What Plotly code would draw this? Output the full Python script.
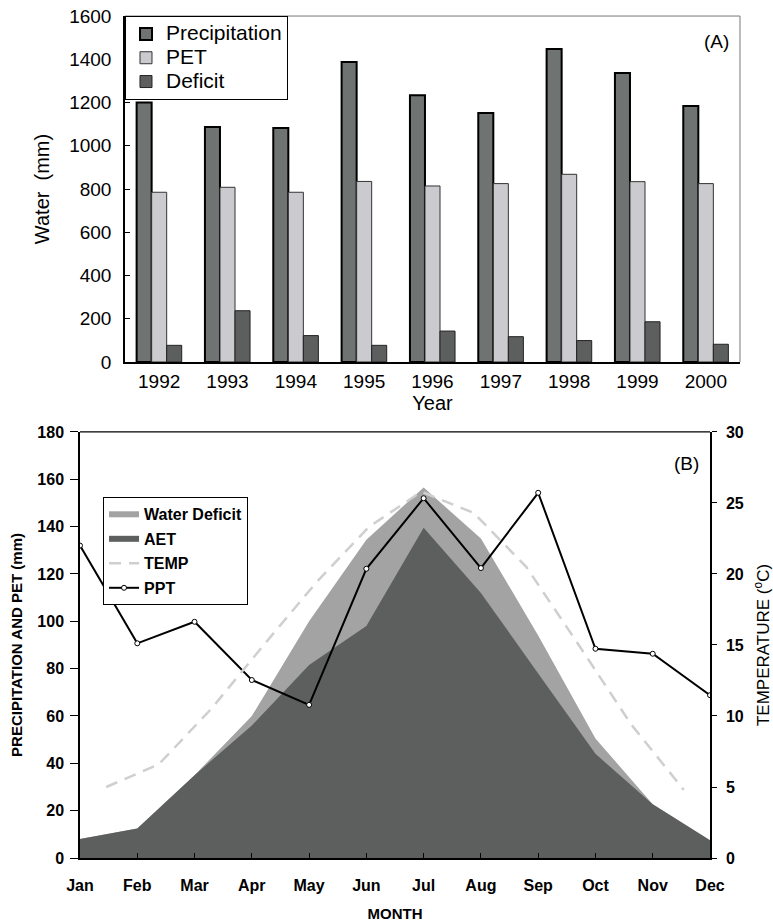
import plotly.graph_objects as go

# ---------- Panel A data ----------
years = ["1992", "1993", "1994", "1995", "1996", "1997", "1998", "1999", "2000"]
precip = [1200, 1087, 1082, 1387, 1234, 1151, 1447, 1336, 1184]
pet = [785, 808, 785, 835, 814, 825, 868, 834, 825]
deficit = [77, 237, 122, 77, 143, 117, 99, 186, 82]

# ---------- Panel B data ----------
months = ["Jan", "Feb", "Mar", "Apr", "May", "Jun", "Jul", "Aug", "Sep", "Oct", "Nov", "Dec"]
pet_b = [8, 12.5, 35, 60, 100, 134.5, 156.5, 135, 94, 50.5, 22.7, 7.5]
aet_b = [8, 12.5, 35, 56, 81.5, 98, 139.5, 112, 78, 44, 22.7, 7.5]
temp_b = [5.0, 6.6, 10.5, 15.0, 19.4, 23.3, 25.8, 24.3, 20.5, 15.0, 9.4, 4.8]
ppt_b = [132, 90.7, 99.8, 75.2, 64.7, 122.2, 152, 122.5, 154.3, 88.4, 86.3, 68.8]

FA = "Liberation Sans, Arial, sans-serif"


def big(t, size=21):
    return '<span style="font-size:%dpx">%s</span>' % (size, t)


fig = go.Figure()

# Panel A bars
fig.add_trace(go.Bar(x=years, y=precip, name=big("Precipitation"), xaxis="x", yaxis="y",
                     marker=dict(color="#6f7372", line=dict(color="#000000", width=2)),
                     legend="legend"))
fig.add_trace(go.Bar(x=years, y=pet, name=big("PET"), xaxis="x", yaxis="y",
                     marker=dict(color="#cbcbcf", line=dict(color="#333333", width=1)),
                     legend="legend"))
fig.add_trace(go.Bar(x=years, y=deficit, name=big("Deficit"), xaxis="x", yaxis="y",
                     marker=dict(color="#5d5f5e", line=dict(color="#222222", width=1)),
                     legend="legend"))

# Panel B areas and lines
fig.add_trace(go.Scatter(x=months, y=pet_b, name=big("Water Deficit", 16), xaxis="x2", yaxis="y2",
                         mode="none", fill="tozeroy", fillcolor="#a3a3a3",
                         legend="legend2", legendgroup="g1"))
fig.add_trace(go.Scatter(x=months, y=aet_b, name=big("AET", 16), xaxis="x2", yaxis="y2",
                         mode="none", fill="tozeroy", fillcolor="#5d5f5e",
                         legend="legend2", legendgroup="g2"))
fig.add_trace(go.Scatter(x=months, y=temp_b, name=big("TEMP", 16), xaxis="x3", yaxis="y3",
                         mode="lines", line=dict(color="#cfcfcf", width=2.5, dash="12px,8px"),
                         legend="legend2", legendgroup="g3"))
fig.add_trace(go.Scatter(x=months, y=ppt_b, name=big("PPT", 16), xaxis="x2", yaxis="y2",
                         mode="lines+markers", line=dict(color="#000000", width=2),
                         marker=dict(symbol="circle", size=5, color="#ffffff",
                                     line=dict(color="#000000", width=1)),
                         legend="legend2", legendgroup="g4"))

axis_font_a = dict(family=FA, size=19, color="#000000")
axis_font_b = dict(family=FA, size=16, color="#000000", weight="bold")

fig.update_layout(
    template="none",
    width=773, height=922,
    margin=dict(l=0, r=0, t=0, b=0, autoexpand=False),
    paper_bgcolor="#ffffff", plot_bgcolor="#ffffff",
    showlegend=True,
    barmode="group", bargap=0.34, bargroupgap=0,
    font=dict(family=FA, color="#000000"),
    xaxis=dict(domain=[0.1617, 0.9573], anchor="y", type="category", automargin=False,
               showline=True, linecolor="#000000", linewidth=1.5,
               ticks="", tickfont=axis_font_a, ticklabelstandoff=1,
               showgrid=False, zeroline=False,
               title=dict(text="Year", font=dict(family=FA, size=20), standoff=4)),
    yaxis=dict(domain=[0.6074, 0.9826], anchor="x", range=[0, 1600], dtick=200,
               automargin=False,
               showline=True, linecolor="#000000", linewidth=1.5,
               ticks="inside", ticklen=5, tickcolor="#000000",
               tickfont=axis_font_a, ticklabelstandoff=8,
               showgrid=False, zeroline=False,
               title=dict(text="Water  (mm)", font=dict(family=FA, size=20), standoff=14)),
    xaxis2=dict(domain=[0.1035, 0.9185], anchor="y2", type="category", range=[0, 11],
                automargin=False,
                showline=True, linecolor="#000000", linewidth=1.5, mirror=False,
                ticks="inside", ticklen=5, tickcolor="#000000",
                tickfont=axis_font_b, ticklabelstandoff=12,
                showgrid=False, zeroline=False,
                title=dict(text="MONTH", font=dict(family=FA, size=15, weight="bold"), standoff=25)),
    xaxis3=dict(domain=[0.1035, 0.9185], anchor="y2", overlaying="x2", type="category",
                range=[-0.5, 11.5], visible=False, automargin=False),
    yaxis2=dict(domain=[0.0694, 0.5315], anchor="x2", range=[0, 180], dtick=20,
                automargin=False,
                showline=True, linecolor="#000000", linewidth=1.5,
                ticks="outside", ticklen=8, tickcolor="#000000",
                tickfont=axis_font_b, ticklabelstandoff=3,
                showgrid=False, zeroline=False,
                title=dict(text="PRECIPITATION AND PET (mm)",
                           font=dict(family=FA, size=15, weight="bold"), standoff=11)),
    yaxis3=dict(anchor="x2", overlaying="y2", side="right", range=[0, 30], dtick=5,
                automargin=False,
                showline=True, linecolor="#000000", linewidth=1.5,
                ticks="outside", ticklen=5, tickcolor="#000000",
                tickfont=axis_font_b, ticklabelstandoff=6,
                showgrid=False, zeroline=False,
                title=dict(text="TEMPERATURE (<sup>o</sup>C)",
                           font=dict(family=FA, size=17), standoff=15)),
    legend=dict(x=0.1617, y=0.9826, xanchor="left", yanchor="top",
                bgcolor="#ffffff", bordercolor="#000000", borderwidth=1,
                font=dict(family=FA, size=16), tracegroupgap=0),
    legend2=dict(x=0.1333, y=0.4609, xanchor="left", yanchor="top",
                 bgcolor="#ffffff", bordercolor="#000000", borderwidth=1,
                 font=dict(family=FA, size=15, weight="bold"),
                 traceorder="grouped", tracegroupgap=2),
    shapes=[
        dict(type="line", xref="x domain", yref="y domain", x0=0, x1=1, y0=1, y1=1,
             line=dict(color="#777777", width=1)),
        dict(type="line", xref="x domain", yref="y domain", x0=1, x1=1, y0=0, y1=1,
             line=dict(color="#777777", width=1)),
        dict(type="line", xref="x2 domain", yref="y2 domain", x0=0, x1=1, y0=1, y1=1,
             line=dict(color="#000000", width=1.2)),
    ],
    annotations=[
        dict(text="(A)", xref="x domain", yref="y domain", x=0.985, y=0.925,
             xanchor="right", yanchor="middle", showarrow=False,
             font=dict(family=FA, size=19)),
        dict(text="(B)", xref="x2 domain", yref="y2 domain", x=0.985, y=0.925,
             xanchor="right", yanchor="middle", showarrow=False,
             font=dict(family=FA, size=19)),
    ],
)

fig.write_html("out.html")
